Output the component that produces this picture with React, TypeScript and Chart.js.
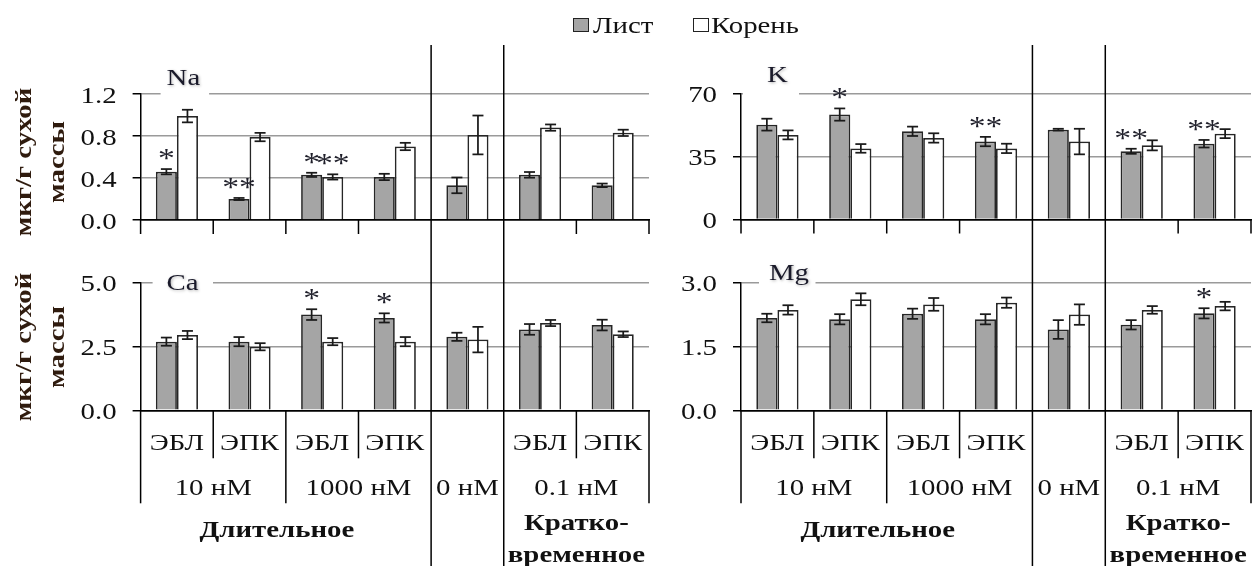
import React, { useEffect, useRef } from 'react';
import { Chart, registerables } from 'chart.js';

Chart.register(...registerables);

// ---------------- data ----------------
const categories = ['ЭБЛ', 'ЭПК', 'ЭБЛ', 'ЭПК', '', 'ЭБЛ', 'ЭПК'];
const concentrationLabels = ['10 нМ', '1000 нМ', '0 нМ', '0.1 нМ'];
const concentrationSpans = [[0, 2], [2, 4], [4, 5], [5, 7]];
const durationLabels = [['Длительное'], ['Кратко-', 'временное']];
const durationSpans = [[0, 4], [5, 7]];
const seriesNames = ['Лист', 'Корень'];
const yAxisTitle = ['мкг/г сухой', 'массы'];

const naLeaf = [0.46, 0.2, 0.43, 0.41, 0.33, 0.43, 0.33];
const naLeafErr = [0.025, 0.01, 0.02, 0.03, 0.075, 0.027, 0.017];
const naRoot = [0.99, 0.79, 0.41, 0.7, 0.81, 0.88, 0.83];
const naRootErr = [0.06, 0.04, 0.025, 0.035, 0.185, 0.03, 0.03];
const naLeafSig = ['*', '**', '*', '', '', '', ''];
const naRootSig = ['', '', '**', '', '', '', ''];

const kLeaf = [52.7, 58.3, 49.0, 43.3, 49.9, 37.9, 42.1];
const kLeafErr = [3.3, 3.4, 2.6, 2.6, 0.5, 1.4, 2.1];
const kRoot = [47.0, 39.5, 45.3, 39.5, 43.3, 41.2, 47.7];
const kRootErr = [2.5, 2.4, 2.6, 2.6, 7.1, 2.8, 2.5];
const kLeafSig = ['', '*', '', '**', '', '**', '**'];
const kRootSig = ['', '', '', '', '', '', ''];

const caLeaf = [2.69, 2.69, 3.75, 3.62, 2.88, 3.17, 3.34];
const caLeafErr = [0.16, 0.18, 0.21, 0.18, 0.16, 0.21, 0.21];
const caRoot = [2.95, 2.49, 2.69, 2.69, 2.77, 3.42, 2.98];
const caRootErr = [0.16, 0.14, 0.14, 0.18, 0.5, 0.12, 0.11];
const caLeafSig = ['', '', '*', '*', '', '', ''];
const caRootSig = ['', '', '', '', '', '', ''];

const mgLeaf = [2.17, 2.14, 2.27, 2.14, 1.9, 2.01, 2.28];
const mgLeafErr = [0.1, 0.12, 0.12, 0.12, 0.22, 0.11, 0.12];
const mgRoot = [2.36, 2.61, 2.49, 2.53, 2.25, 2.36, 2.45];
const mgRootErr = [0.11, 0.14, 0.15, 0.12, 0.24, 0.09, 0.1];
const mgLeafSig = ['', '', '', '', '', '', '*'];
const mgRootSig = ['', '', '', '', '', '', ''];

// ---------------- style / layout ----------------
const FAMILY = '"Liberation Serif","Times New Roman",serif';
const FONT = `24px ${FAMILY}`;
const BOLD = `bold 24px ${FAMILY}`;
const STAR = `28px ${FAMILY}`;
const SX = 1.2;
const LEAF_COLOR = '#a5a5a5';
const TEXT = '#111';
const TITLE_COLOR = '#2f1b0e';
const dividerEdges = [4, 5];
const durationDx = [-9, 0];

type Panel = {
  key: string; title: string;
  leaf: number[]; leafErr: number[]; leafSig: string[];
  root: number[]; rootErr: number[]; rootSig: string[];
  max: number; step: number; dec: number;
  left: number; top: number; w: number; h: number;
  axisW: number; padRight: number; padTop: number; xH: number;
  bottom: boolean; yTitle: boolean; yTitleCy: number;
  titleDx: number; titleDy: number; titleBox: [number, number];
};

const panels: Panel[] = [
  { key: 'na', title: 'Na', leaf: naLeaf, leafErr: naLeafErr, leafSig: naLeafSig, root: naRoot, rootErr: naRootErr, rootSig: naRootSig,
    max: 1.2, step: 0.4, dec: 1, left: 0, top: 0, w: 660, h: 250, axisW: 140.6, padRight: 11, padTop: 94, xH: 30,
    bottom: false, yTitle: true, yTitleCy: 162, titleDx: 26, titleDy: -9, titleBox: [20, 68.5] },
  { key: 'k', title: 'K', leaf: kLeaf, leafErr: kLeafErr, leafSig: kLeafSig, root: kRoot, rootErr: kRootErr, rootSig: kRootSig,
    max: 70, step: 35, dec: 0, left: 660, top: 0, w: 592, h: 250, axisW: 81, padRight: 1, padTop: 93.5, xH: 30.5,
    bottom: false, yTitle: false, yTitleCy: 0, titleDx: 26, titleDy: -12, titleBox: [2, 58] },
  { key: 'ca', title: 'Ca', leaf: caLeaf, leafErr: caLeafErr, leafSig: caLeafSig, root: caRoot, rootErr: caRootErr, rootSig: caRootSig,
    max: 5, step: 2.5, dec: 1, left: 0, top: 250, w: 660, h: 316, axisW: 140.6, padRight: 11, padTop: 32.7, xH: 155.7,
    bottom: true, yTitle: true, yTitleCy: 97, titleDx: 26, titleDy: 7.3, titleBox: [12, 72.4] },
  { key: 'mg', title: 'Mg', leaf: mgLeaf, leafErr: mgLeafErr, leafSig: mgLeafSig, root: mgRoot, rootErr: mgRootErr, rootSig: mgRootSig,
    max: 3, step: 1.5, dec: 1, left: 660, top: 250, w: 592, h: 316, axisW: 81, padRight: 1, padTop: 32.7, xH: 155.7,
    bottom: true, yTitle: false, yTitleCy: 0, titleDx: 28, titleDy: -2.7, titleBox: [18, 74.5] },
];

function drawText(ctx: CanvasRenderingContext2D, text: string, x: number, y: number, font: string,
  align: CanvasTextAlign, color: string, rotate = false) {
  ctx.save();
  ctx.font = font;
  ctx.fillStyle = color;
  ctx.textAlign = align;
  ctx.textBaseline = 'alphabetic';
  ctx.translate(x, y);
  if (rotate) ctx.rotate(-Math.PI / 2);
  ctx.scale(SX, 1);
  ctx.fillText(text, 0, 0);
  ctx.restore();
}

function line(ctx: CanvasRenderingContext2D, x1: number, y1: number, x2: number, y2: number, w = 1.5, c = '#000') {
  ctx.save();
  ctx.strokeStyle = c;
  ctx.lineWidth = w;
  ctx.beginPath();
  ctx.moveTo(x1, y1);
  ctx.lineTo(x2, y2);
  ctx.stroke();
  ctx.restore();
}

function makePlugin(p: Panel) {
  const series = [
    { values: p.leaf, errs: p.leafErr, sigs: p.leafSig },
    { values: p.root, errs: p.rootErr, sigs: p.rootSig },
  ];
  return {
    id: 'custom_' + p.key,
    beforeDatasetsDraw(chart: any) {
      const ctx = chart.ctx as CanvasRenderingContext2D;
      const ca = chart.chartArea;
      const by = ca.top + p.titleDy;
      const x0 = ca.left + p.titleBox[0];
      const x1 = ca.left + p.titleBox[1];
      const y0 = Math.min(by - 20, ca.top - 3);
      const y1 = Math.max(by + 5, ca.top + 3);
      ctx.save();
      ctx.fillStyle = '#fff';
      ctx.fillRect(x0, y0, x1 - x0, y1 - y0);
      ctx.restore();
    },
    afterDatasetsDraw(chart: any) {
      const ctx = chart.ctx as CanvasRenderingContext2D;
      const ca = chart.chartArea;
      const xs = chart.scales.x;
      const ys = chart.scales.y;
      const n = categories.length;
      const edge = (i: number) => xs.getPixelForValue(i - 0.5);
      const center = (i: number) => xs.getPixelForValue(i);

      // error bars + significance marks
      series.forEach((s, d) => {
        const meta = chart.getDatasetMeta(d);
        meta.data.forEach((el: any, i: number) => {
          const x = el.x;
          const yt = ys.getPixelForValue(s.values[i] + s.errs[i]);
          const yb = ys.getPixelForValue(s.values[i] - s.errs[i]);
          line(ctx, x, yt, x, yb, 1.75, '#1a1a1a');
          line(ctx, x - 5.5, yt, x + 5.5, yt, 1.75, '#1a1a1a');
          line(ctx, x - 5.5, yb, x + 5.5, yb, 1.75, '#1a1a1a');
          if (s.sigs[i]) drawText(ctx, s.sigs[i], x, yt - 2, STAR, 'center', '#1f1f2a');
        });
      });

      // y tick labels
      for (const t of ys.ticks) {
        const y = ys.getPixelForValue(t.value);
        drawText(ctx, Number(t.value).toFixed(p.dec), ca.left - 24, y + 8.5, FONT, 'right', TEXT);
      }

      // panel title
      ctx.save();
      ctx.shadowColor = 'rgba(0,0,0,0.3)';
      ctx.shadowBlur = 3;
      ctx.shadowOffsetX = 1;
      ctx.shadowOffsetY = 1;
      drawText(ctx, p.title, ca.left + p.titleDx, ca.top + p.titleDy, FONT, 'left', '#1a1a2a');
      ctx.restore();

      // dividers (full height)
      const divTop = Math.max(0, 45 - p.top);
      dividerEdges.forEach((i) => line(ctx, edge(i), divTop, edge(i), chart.height, 1.5));

      if (!p.bottom) {
        for (let i = 0; i <= n; i++) {
          if (dividerEdges.includes(i)) continue;
          line(ctx, edge(i), ca.bottom, edge(i), ca.bottom + 14, 1.5);
        }
      } else {
        const longEdges = new Set<number>();
        concentrationSpans.forEach(([a, b]) => { longEdges.add(a); longEdges.add(b); });
        for (let i = 0; i <= n; i++) {
          if (dividerEdges.includes(i)) continue;
          const len = longEdges.has(i) ? 93 : 48;
          line(ctx, edge(i), ca.bottom, edge(i), ca.bottom + len, 1.5);
        }
        categories.forEach((c, i) => {
          if (c) drawText(ctx, c, center(i), ca.bottom + 39.7, FONT, 'center', TEXT);
        });
        concentrationLabels.forEach((c, k) => {
          const [a, b] = concentrationSpans[k];
          drawText(ctx, c, (edge(a) + edge(b)) / 2, ca.bottom + 84.7, FONT, 'center', TEXT);
        });
        durationLabels.forEach((lines, k) => {
          const [a, b] = durationSpans[k];
          const cx = (edge(a) + edge(b)) / 2 + durationDx[k];
          if (lines.length === 1) {
            drawText(ctx, lines[0], cx, ca.bottom + 126.7, BOLD, 'center', TEXT);
          } else {
            drawText(ctx, lines[0], cx, ca.bottom + 119.7, BOLD, 'center', TEXT);
            drawText(ctx, lines[1], cx, ca.bottom + 151.4, BOLD, 'center', TEXT);
          }
        });
      }

      if (p.yTitle) {
        drawText(ctx, yAxisTitle[0], 31, p.yTitleCy, BOLD, 'center', TITLE_COLOR, true);
        drawText(ctx, yAxisTitle[1], 63.5, p.yTitleCy, BOLD, 'center', TITLE_COLOR, true);
      }
    },
  };
}

export default function App() {
  const refs = useRef<(HTMLCanvasElement | null)[]>([]);

  useEffect(() => {
    const charts: Chart[] = [];
    panels.forEach((p, idx) => {
      const canvas = refs.current[idx];
      if (!canvas) return;
      const chart = new Chart(canvas, {
        type: 'bar',
        data: {
          labels: categories,
          datasets: [
            { label: seriesNames[0], data: p.leaf, backgroundColor: LEAF_COLOR, borderColor: '#262626', borderWidth: 1.75,
              categoryPercentage: 0.58, barPercentage: 1 },
            { label: seriesNames[1], data: p.root, backgroundColor: '#ffffff', borderColor: '#262626', borderWidth: 1.75,
              categoryPercentage: 0.58, barPercentage: 1 },
          ],
        },
        options: {
          responsive: false,
          animation: false,
          devicePixelRatio: 1,
          layout: { padding: { left: 0, right: p.padRight, top: p.padTop, bottom: 0 } },
          plugins: { legend: { display: false }, tooltip: { enabled: false } },
          scales: {
            x: {
              grid: { display: false },
              border: { display: true, color: '#000', width: 1.5 },
              ticks: { display: false },
              afterFit: (s: any) => { s.height = p.xH; },
            },
            y: {
              min: 0,
              max: p.max,
              ticks: { display: false, stepSize: p.step },
              grid: {
                color: (c: any) => (c.tick && c.tick.value === 0 ? '#000' : '#9a9a9a'),
                lineWidth: 1.5,
                tickLength: 8,
                tickColor: '#000',
                drawTicks: true,
              },
              border: { display: true, color: '#000', width: 1.5 },
              afterFit: (s: any) => { s.width = p.axisW; },
            },
          },
        } as any,
        plugins: [makePlugin(p)],
      });
      charts.push(chart);
    });
    return () => charts.forEach((c) => c.destroy());
  }, []);

  const legendText: React.CSSProperties = {
    position: 'absolute', top: 13.2, fontFamily: FAMILY, fontSize: 24, lineHeight: '24px',
    transform: `scaleX(${SX})`, transformOrigin: 'left center', whiteSpace: 'nowrap', color: TEXT,
  };
  const box: React.CSSProperties = {
    position: 'absolute', top: 17.7, width: 16, height: 14, border: '1.5px solid #222', boxSizing: 'border-box',
  };

  return (
    <div style={{ position: 'absolute', left: 0, top: 0, width: 1252, height: 566, background: '#fff', overflow: 'hidden' }}>
      {panels.map((p, idx) => (
        <canvas
          key={p.key}
          ref={(el) => { refs.current[idx] = el; }}
          width={p.w}
          height={p.h}
          style={{ position: 'absolute', left: p.left, top: p.top, width: p.w, height: p.h }}
        />
      ))}
      <div style={{ ...box, left: 573.3, background: LEAF_COLOR }} />
      <span style={{ ...legendText, left: 593 }}>{seriesNames[0]}</span>
      <div style={{ ...box, left: 693, background: '#fff' }} />
      <span style={{ ...legendText, left: 711 }}>{seriesNames[1]}</span>
    </div>
  );
}
